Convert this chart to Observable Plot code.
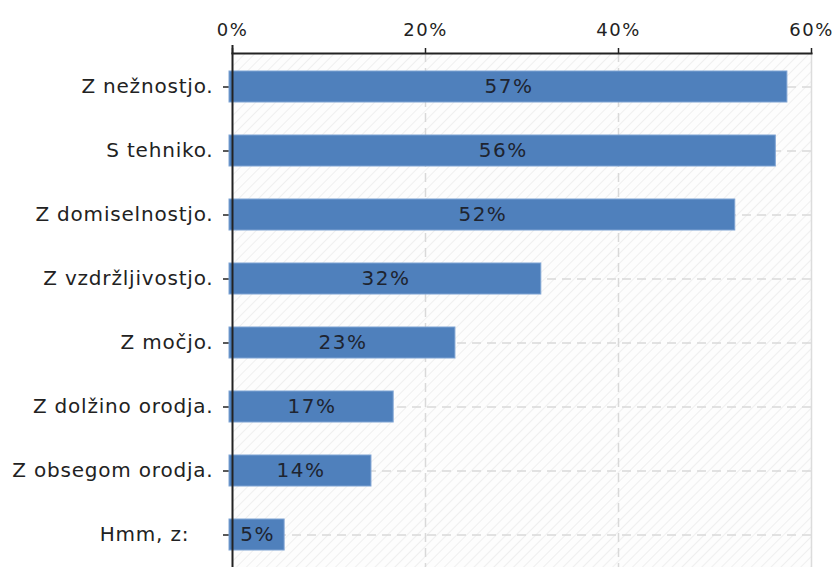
<!DOCTYPE html>
<html>
<head>
<meta charset="utf-8">
<script src="https://cdn.jsdelivr.net/npm/d3@7"></script>
<script src="https://cdn.jsdelivr.net/npm/@observablehq/plot@0.6"></script>
<style>
  html, body { margin: 0; padding: 0; background: #fff; overflow: hidden; }
  #chart svg { display: block; }
</style>
</head>
<body>
<div id="chart"></div>
<script>
const categories = ["Z nežnostjo.", "S tehniko.", "Z domiselnostjo.", "Z vzdržljivostjo.", "Z močjo.", "Z dolžino orodja.", "Z obsegom orodja.", "Hmm, z:"];
const values = [57.5, 56.3, 52.1, 32.0, 23.1, 16.7, 14.4, 5.4];
const valueLabels = ["57%", "56%", "52%", "32%", "23%", "17%", "14%", "5%"];
const xTicks = [0, 20, 40, 60];
const gridTicks = [20, 40];

const data = categories.map((c, i) => ({category: c, value: values[i], label: valueLabels[i]}));

const font = "DejaVu Sans, Verdana, sans-serif";

const chart = Plot.plot({
  width: 833,
  height: 567,
  marginTop: 53,
  marginRight: 22,
  marginBottom: 0,
  marginLeft: 232,
  style: {fontFamily: font, fontSize: "20px", color: "#222", background: "#fff"},
  x: {domain: [0, 60], ticks: xTicks},
  y: {domain: categories, paddingInner: 0.52, paddingOuter: 0.232},
  marks: [
    Plot.frame({fill: "url(#hatch)", stroke: null}),
    Plot.ruleX(gridTicks, {stroke: "#d9d9d9", strokeWidth: 1.5, strokeDasharray: "9,6"}),
    Plot.ruleY(categories, {y: d => d, x1: 0, x2: 60, stroke: "#d9d9d9", strokeWidth: 1.5, strokeDasharray: "9,6"}),
    Plot.frame({anchor: "right", stroke: "#dcdcdc", strokeWidth: 1.5}),
    Plot.axisX({anchor: "top", ticks: xTicks, tickFormat: d => d + "%", tickSize: 6, tickPadding: 12, fontSize: 18, stroke: "#222", strokeWidth: 1.5, label: null}),
    Plot.axisY({anchor: "left", tickSize: 9, tickPadding: 10, fontSize: 20, stroke: "#222", strokeWidth: 1.5, label: null,
      tickFormat: d => d === "Hmm, z:" ? d + "\u00a0\u00a0\u00a0\u200a" : d}),
    Plot.barX(data, {y: "category", x: "value", fill: "#4f80bc", stroke: "#7ea3d3", strokeWidth: 1, insetLeft: -3}),
    Plot.text(data, {y: "category", x: d => d.value / 2, dx: -1, text: "label", fill: "#1e2430", fontSize: 20}),
    Plot.frame({anchor: "top", stroke: "#222", strokeWidth: 2}),
    Plot.ruleX([0], {stroke: "#222", strokeWidth: 2, insetTop: -8})
  ]
});

const svgEl = chart.tagName.toLowerCase() === "svg" ? chart : chart.querySelector("svg");
const ns = "http://www.w3.org/2000/svg";
const defs = document.createElementNS(ns, "defs");
defs.innerHTML = '<pattern id="hatch" patternUnits="userSpaceOnUse" width="7" height="7" patternTransform="rotate(45)">' +
  '<rect width="7" height="7" fill="#fdfdfd"></rect>' +
  '<line x1="0" y1="0" x2="0" y2="7" stroke="#efefef" stroke-width="2"></line></pattern>';
svgEl.insertBefore(defs, svgEl.firstChild);

svgEl.querySelectorAll('g[aria-label="x-axis tick label"]').forEach(g => g.style.letterSpacing = "1.5px");
svgEl.querySelectorAll('g[aria-label="y-axis tick label"]').forEach(g => g.style.letterSpacing = "0.8px");
svgEl.querySelectorAll('g[aria-label="text"]').forEach(g => g.style.letterSpacing = "1.5px");

document.getElementById("chart").appendChild(chart);
</script>
</body>
</html>
